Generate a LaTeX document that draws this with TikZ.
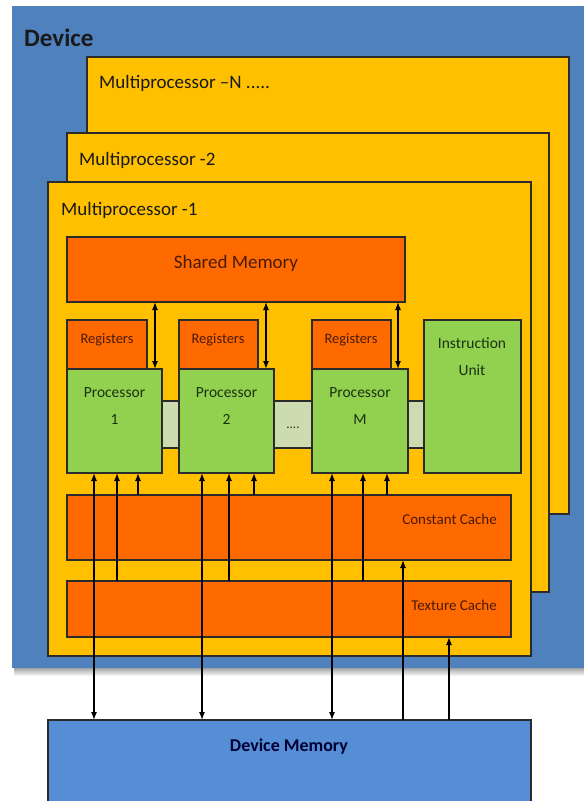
\documentclass[tikz,border=0pt]{standalone}
\usepackage{fontspec}
\setmainfont{Carlito}
\usetikzlibrary{arrows.meta}
\definecolor{devblue}{HTML}{4F81BD}
\definecolor{memblue}{HTML}{558ED5}
\definecolor{mpyellow}{HTML}{FFC000}
\definecolor{orng}{HTML}{FF6A00}
\definecolor{grn}{HTML}{92D050}
\definecolor{bus}{HTML}{CDDCB0}
\definecolor{edge}{HTML}{2B2B2B}
\definecolor{otext}{HTML}{4A1A06}
\definecolor{gtext}{HTML}{1A3210}
\tikzset{
  mpbox/.style={draw=edge, line width=1.2pt, fill=mpyellow},
  obox/.style={draw=edge, line width=1.1pt, fill=orng},
  gbox/.style={draw=edge, line width=1.1pt, fill=grn},
  mplabel/.style={anchor=west, inner sep=0pt, font=\fontsize{19}{21}\selectfont, text=black!90},
  smalltxt/.style={inner sep=0pt, font=\fontsize{14.5}{16}\selectfont, text=otext},
  ptxt/.style={inner sep=0pt, align=center, font=\fontsize{15.5}{27}\selectfont, text=gtext},
  arr/.style={line width=1.1pt, -{Latex[length=8pt,width=6pt]}},
  darr/.style={line width=1.1pt, {Latex[length=8pt,width=6pt]}-{Latex[length=8pt,width=6pt]}}
}
\begin{document}
\begin{tikzpicture}[x=1pt,y=-1pt]
\useasboundingbox (0,0) rectangle (584,801);
\fill[white] (0,0) rectangle (584,801);
% shadow and device
\shade[top color=black!45, bottom color=white] (14,666) rectangle (584,676);
\fill[devblue] (12,6) rectangle (584,668);
\node[anchor=west, inner sep=0pt, font=\bfseries\fontsize{25}{27}\selectfont, text=black!90] (devlbl) at (24,38) {Device};
% multiprocessors
\path[mpbox] (87,57) rectangle (569,514);
\node[mplabel] (mpn) at (99,83) {Multiprocessor –N .....};
\path[mpbox] (67,133) rectangle (549,592);
\node[mplabel] (mp2) at (79,160) {Multiprocessor -2};
\path[mpbox] (48,182) rectangle (531,656);
\node[mplabel] (mp1) at (61,210) {Multiprocessor -1};
% shared memory
\path[obox] (67,237) rectangle (405,302);
\node[inner sep=0pt, font=\fontsize{19}{21}\selectfont, text=otext] (shm) at (236,263) {Shared Memory};
% bus
\path[draw=edge, line width=1.1pt, fill=bus] (150,401) rectangle (430,448);
\node[inner sep=0pt, font=\fontsize{13}{14}\selectfont, text=gtext] (dots) at (293,428) {....};
% registers
\path[obox] (67,320) rectangle (147,369);
\node[smalltxt] (r1) at (107,340) {Registers};
\path[obox] (179,320) rectangle (258,369);
\node[smalltxt] (r2) at (218,340) {Registers};
\path[obox] (312,320) rectangle (391,369);
\node[smalltxt] (r3) at (351,340) {Registers};
% processors
\path[gbox] (67,369) rectangle (162,473);
\node[ptxt] (p1) at (114.5,406) {Processor\\1};
\path[gbox] (179,369) rectangle (274,473);
\node[ptxt] (p2) at (226.5,406) {Processor\\2};
\path[gbox] (312,369) rectangle (408,473);
\node[ptxt] (pm) at (360,406) {Processor\\M};
\path[gbox] (424,320) rectangle (521,473);
\node[ptxt] (iu) at (472,357) {Instruction\\Unit};
% caches
\path[obox] (67,495) rectangle (511,560);
\node[anchor=east, inner sep=0pt, font=\fontsize{15}{17}\selectfont, text=otext] (cc) at (497,519) {Constant Cache};
\path[obox] (67,581) rectangle (511,637);
\node[anchor=east, inner sep=0pt, font=\fontsize{15}{17}\selectfont, text=otext] (tc) at (497,605) {Texture Cache};
% device memory
\path[fill=memblue, draw=edge, line width=1.1pt] (48,720) rectangle (531,805);
\node[inner sep=0pt, font=\bfseries\fontsize{18}{20}\selectfont, text=black!80!blue] (dm) at (289,747) {Device Memory};
% shared memory <-> processors
\draw[darr] (155,302) -- (155,369);
\draw[darr] (266,302) -- (266,369);
\draw[darr] (398,302) -- (398,369);
% device memory <-> processors
\draw[darr] (94,720) -- (94,473);
\draw[darr] (202,720) -- (202,473);
\draw[darr] (332,720) -- (332,473);
% texture cache -> processors
\draw[arr] (117,581) -- (117,473);
\draw[arr] (229,581) -- (229,473);
\draw[arr] (363,581) -- (363,473);
% constant cache -> processors
\draw[arr] (138,495) -- (138,473);
\draw[arr] (254,495) -- (254,473);
\draw[arr] (387,495) -- (387,473);
% device memory -> caches
\draw[arr] (403,720) -- (403,560);
\draw[arr] (449,720) -- (449,637);
\end{tikzpicture}
\end{document}
